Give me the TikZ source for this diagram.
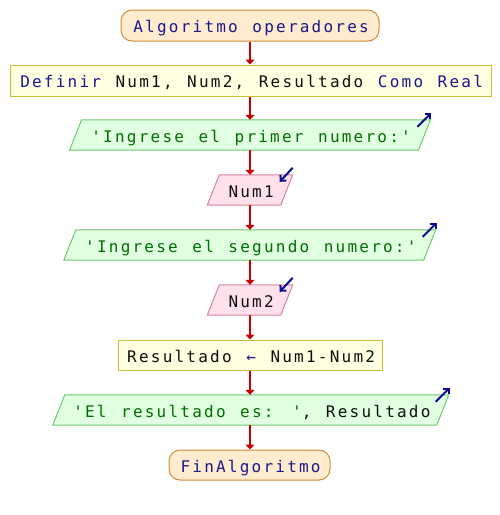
\documentclass[tikz,border=0pt]{standalone}
\usepackage{fontspec}
\usetikzlibrary{arrows.meta,calc,backgrounds}
\newfontfamily\codefont[Ligatures=TeXOff,LetterSpace=13.9,WordSpace=1.23]{DejaVu Sans Mono}
\definecolor{kwblue}{RGB}{25,25,140}
\definecolor{strgreen}{RGB}{0,110,0}
\definecolor{varblack}{RGB}{15,15,15}
\definecolor{termfill}{RGB}{255,235,205}
\definecolor{termline}{RGB}{205,140,60}
\definecolor{procfill}{RGB}{255,255,225}
\definecolor{procline}{RGB}{200,190,60}
\definecolor{outfill}{RGB}{225,255,225}
\definecolor{outline}{RGB}{110,200,110}
\definecolor{readfill}{RGB}{255,225,235}
\definecolor{readline}{RGB}{210,130,160}
\definecolor{flowred}{RGB}{200,0,0}
\definecolor{symblue}{RGB}{10,10,140}
\newcommand\kwd[1]{\textcolor{kwblue}{#1}}
\newcommand\strg[1]{\textcolor{strgreen}{#1}}
\newcommand\varn[1]{\textcolor{varblack}{#1}}
\newcommand\paradraw[3]{\filldraw[draw=#2,fill=#3,line width=1pt]
  ($(#1.south west)+(-6,0)$) -- ($(#1.north west)+(6,0)$) --
  ($(#1.north east)+(6,0)$) -- ($(#1.south east)+(-6,0)$) -- cycle;}
\begin{document}
\begin{tikzpicture}[x=1pt,y=-1pt,
  base/.style={font=\codefont\fontsize{16}{19}\selectfont, inner sep=0pt, minimum height=30pt, text height=14.4pt, text depth=0pt, anchor=center, execute at begin node={\kern2.22pt}},
  term/.style={base, draw=termline, fill=termfill, rounded corners=11pt, line width=1pt},
  proc/.style={base, draw=procline, fill=procfill, line width=1pt},
  io/.style={base},
  flow/.style={draw=flowred, line width=2pt, -{Triangle[width=9pt,length=5pt]}},
  sym/.style={draw=symblue, line width=2pt, -{Straight Barb[length=4pt,width=8pt]}}]
\useasboundingbox (0,0) rectangle (500,515);
\node[term, minimum width=258pt, minimum height=31pt] (start) at (250,25.5) {\kwd{Algoritmo operadores}};
\node[proc, minimum width=481pt, minimum height=31pt] (def) at (250.5,80.5) {\kwd{Definir} \varn{Num1, Num2, Resultado} \kwd{Como Real}};
\node[io, minimum width=348.5pt] (p1) at (250,135) {\strg{'Ingrese el primer numero:'}};
\node[io, minimum width=73pt] (n1) at (250,190) {\varn{Num1}};
\node[io, minimum width=359.5pt] (p2) at (249.75,245) {\strg{'Ingrese el segundo numero:'}};
\node[io, minimum width=73pt] (n2) at (250,300) {\varn{Num2}};
\node[proc, minimum width=264pt] (res) at (250,355) {\varn{Resultado} \kwd{←} \varn{Num1-Num2}};
\node[io, minimum width=383.5pt] (p3) at (250.75,410) {\strg{'El resultado es: '}\varn{, Resultado}};
\node[term, minimum width=161pt] (fin) at (249.5,465) {\kwd{FinAlgoritmo}};
\begin{scope}[on background layer]
\paradraw{p1}{outline}{outfill}
\paradraw{p2}{outline}{outfill}
\paradraw{p3}{outline}{outfill}
\paradraw{n1}{readline}{readfill}
\paradraw{n2}{readline}{readfill}
\end{scope}
\draw[flow] (start.south) -- (start.south |- def.north);
\draw[flow] (start.south |- def.south) -- (start.south |- p1.north);
\draw[flow] (start.south |- p1.south) -- (start.south |- n1.north);
\draw[flow] (start.south |- n1.south) -- (start.south |- p2.north);
\draw[flow] (start.south |- p2.south) -- (start.south |- n2.north);
\draw[flow] (start.south |- n2.south) -- (start.south |- res.north);
\draw[flow] (start.south |- res.south) -- (start.south |- p3.north);
\draw[flow] (start.south |- p3.south) -- (start.south |- fin.north);
\draw[sym] ($(p1.north east)+(-7,7)$) -- ($(p1.north east)+(7,-7)$);
\draw[sym] ($(p2.north east)+(-7,7)$) -- ($(p2.north east)+(7,-7)$);
\draw[sym] ($(p3.north east)+(-7,7)$) -- ($(p3.north east)+(7,-7)$);
\draw[sym] ($(n1.north east)+(6,-7)$) -- ($(n1.north east)+(-7,7)$);
\draw[sym] ($(n2.north east)+(6,-7)$) -- ($(n2.north east)+(-7,7)$);
\end{tikzpicture}
\end{document}
